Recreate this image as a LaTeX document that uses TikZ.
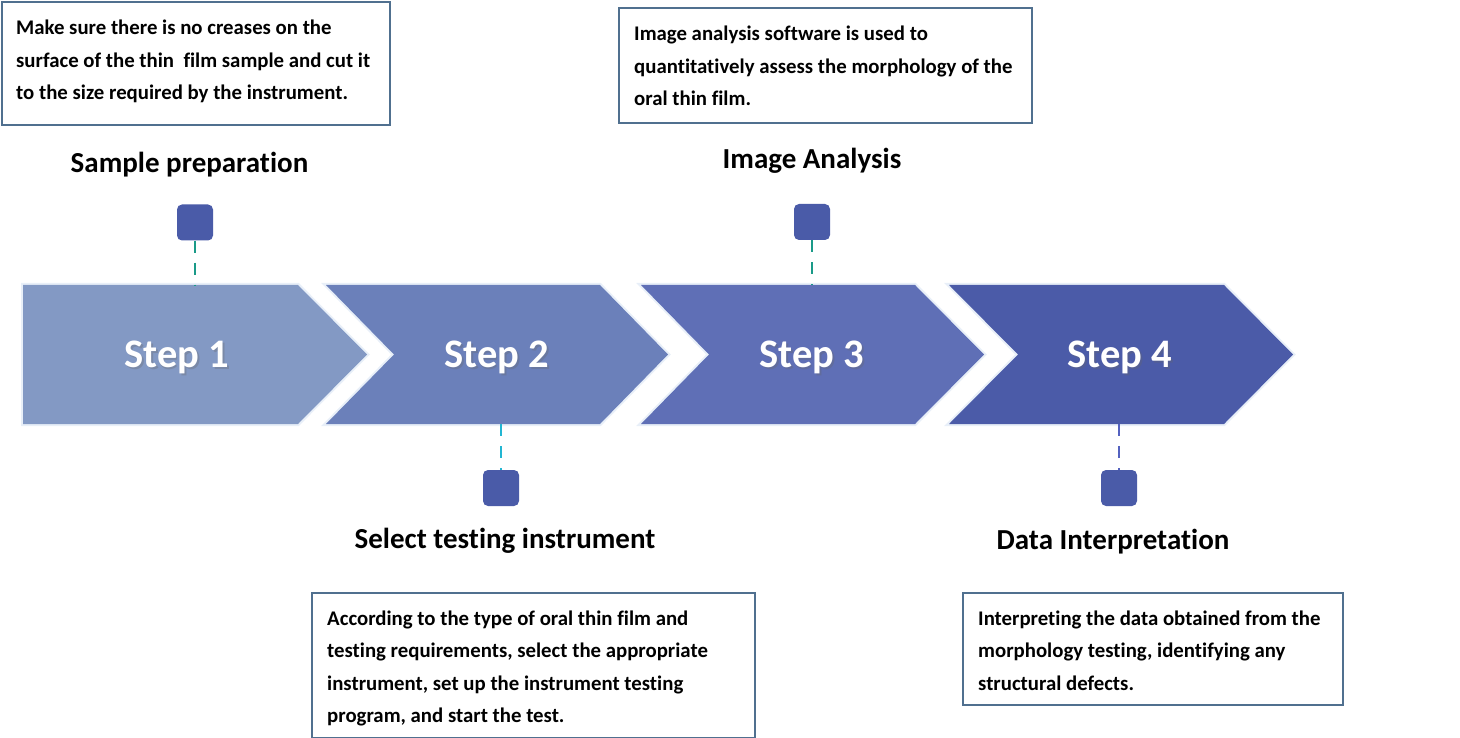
\documentclass[tikz,border=0pt]{standalone}
\usepackage{fontspec}
\setmainfont{Carlito}[Ligatures=NoCommon,Contextuals=NoAlternate,RawFeature={-dlig;-rlig;-ccmp}]
\definecolor{boxline}{HTML}{50708F}
\definecolor{sqfill}{HTML}{4A5BA8}
\definecolor{cA}{HTML}{8399C4}
\definecolor{cB}{HTML}{6B80BA}
\definecolor{cC}{HTML}{5F6FB6}
\definecolor{cD}{HTML}{4B5BA8}
\definecolor{glow}{HTML}{E8EFF8}
\definecolor{teal}{HTML}{1A9A88}
\definecolor{cyanl}{HTML}{22B6D2}
\definecolor{bluel}{HTML}{5462C0}
\begin{document}
\begin{tikzpicture}[x=1pt,y=-1pt,
  infobox/.style={draw=boxline,line width=2pt,fill=white,inner sep=0pt,anchor=north west},
  infotext/.style={font=\bfseries\fontsize{20.8}{32.5}\selectfont,align=left,inner sep=0pt,anchor=base west},
  title/.style={font=\bfseries\fontsize{29}{32}\selectfont,inner sep=0pt,anchor=base},
  steptext/.style={font=\bfseries\fontsize{40.5}{44}\selectfont,text=white,inner sep=0pt,anchor=base},
  stepshadow/.style={font=\bfseries\fontsize{40.5}{44}\selectfont,text=black!60,opacity=0.3,inner sep=0pt,anchor=base},
  marker/.style={fill=sqfill,rounded corners=5pt,minimum width=36pt,minimum height=36pt,inner sep=0pt},
  link/.style={line width=2pt,dash pattern=on 12pt off 10pt},
  chev/.style={draw=glow,line width=4pt,line join=miter}
]
\useasboundingbox (0,0) rectangle (1460,738);

% chevrons
\fill[cA,preaction={chev}] (23,285) -- (298,285) -- (367,354.5) -- (298,424) -- (23,424) -- cycle;
\fill[cB,preaction={chev}] (326,285) -- (600,285) -- (668,354.5) -- (600,424) -- (326,424) -- (394,354.5) -- cycle;
\fill[cC,preaction={chev}] (641,285) -- (915,285) -- (984,354.5) -- (915,424) -- (641,424) -- (709,354.5) -- cycle;
\fill[cD,preaction={chev}] (949,285) -- (1224,285) -- (1293,354.5) -- (1224,424) -- (949,424) -- (1018,354.5) -- cycle;
\coordinate (c1) at (195,285);
\coordinate (c2) at (501,424);
\coordinate (c3) at (812,285);
\coordinate (c4) at (1119,424);

% step labels
\foreach \x/\n in {177/1,497/2,812/3,1120/4}{
  \node[stepshadow] at (\x+1.5,369) {Step \n};
}
\node[steptext] (s1) at (177,367.5) {Step 1};
\node[steptext] (s2) at (497,367.5) {Step 2};
\node[steptext] (s3) at (812,367.5) {Step 3};
\node[steptext] (s4) at (1120,367.5) {Step 4};

% markers
\node[marker] (m1) at (195,222.5) {};
\node[marker] (m2) at (812,222) {};
\node[marker] (m3) at (501,488) {};
\node[marker] (m4) at (1119,488) {};
\draw[link,teal] (m1.south) -- (c1);
\draw[link,teal] (m2.south) -- (c3);
\draw[link,cyanl] (c2) -- (m3.north);
\draw[link,bluel] (c4) -- (m4.north);

% titles
\node[title] (t1) at (189.5,173) {Sample preparation};
\node[title] (t2) at (812,169) {Image Analysis};
\node[title] (t3) at (505,548) {Select testing instrument};
\node[title] (t4) at (1113,549) {Data Interpretation};

% boxes
\node[infobox,minimum width=388pt,minimum height=123pt] (b1) at (1,1) {};
\node[infotext] (d1) at (16,100) {Make sure there is no creases on the\\surface of the thin\ \ film sample and cut it\\to the size required by the instrument.};
\node[infobox,minimum width=413pt,minimum height=115pt] (b2) at (618,7) {};
\node[infotext] (d2) at (634,106) {Image analysis software is used to\\quantitatively assess the morphology of the\\oral thin film.};
\node[infobox,minimum width=443pt,minimum height=145pt] (b3) at (311,592) {};
\node[infotext] (d3) at (327,722.5) {According to the type of oral thin film and\\testing requirements, select the appropriate\\instrument, set up the instrument testing\\program, and start the test.};
\node[infobox,minimum width=380pt,minimum height=112pt] (b4) at (962,592) {};
\node[infotext] (d4) at (978,690) {Interpreting the data obtained from the\\morphology testing, identifying any\\structural defects.};
\end{tikzpicture}
\end{document}
